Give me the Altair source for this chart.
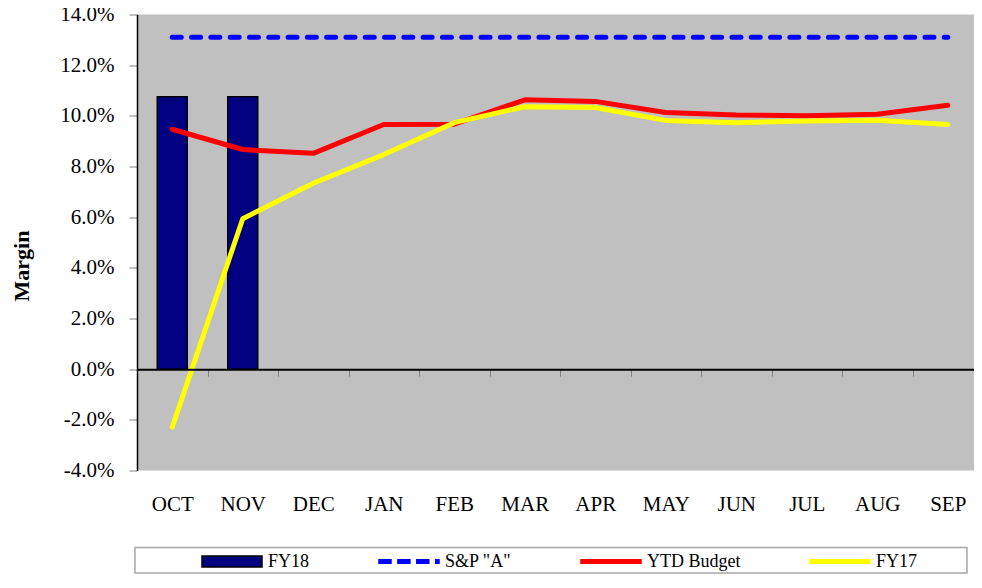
import altair as alt
import pandas as pd

# ---- data ----
months = ["OCT", "NOV", "DEC", "JAN", "FEB", "MAR", "APR", "MAY", "JUN", "JUL", "AUG", "SEP"]
fy18_months = ["OCT", "NOV"]
fy18 = [0.1075, 0.1075]
sp_a = [0.131, 0.131, 0.131, 0.131, 0.131, 0.131, 0.131, 0.131, 0.131, 0.131, 0.131, 0.131]
ytd_budget = [0.0947, 0.0867, 0.0852, 0.0966, 0.0967, 0.1063, 0.1057, 0.1013, 0.1003, 0.1000, 0.1006, 0.1042]
fy17 = [-0.0229, 0.0594, 0.0734, 0.0847, 0.0973, 0.1036, 0.1033, 0.0982, 0.0973, 0.0980, 0.0983, 0.0966]
y_ticks = [-0.04, -0.02, 0.0, 0.02, 0.04, 0.06, 0.08, 0.10, 0.12, 0.14]

series = ["FY18", 'S&P "A"', "YTD Budget", "FY17"]
fills = ["#000080", "#0000FF", "#FF0000", "#FFFF00"]
borders = ["#000000", "#0000FF", "#FF0000", "#FFFF00"]
# legend swatch outlines (unit symbol space, scaled by symbolSize)
swatches = [
    "M-1,-0.18H1V0.18H-1Z",
    "M-1,-0.06H-0.6V0.06H-1Z M-0.37,-0.06H0.03V0.06H-0.37Z M0.26,-0.06H0.66V0.06H0.26Z M0.89,-0.06H1V0.06H0.89Z",
    "M-1,-0.06H1V0.06H-1Z",
    "M-1,-0.06H1V0.06H-1Z",
]

FONT = "Liberation Serif"
TOP = 6.5
W, H = 846, 456

bars_df = pd.DataFrame({"month": fy18_months, "value": fy18})
sp_df = pd.DataFrame({"month": months, "value": sp_a})
ytd_df = pd.DataFrame({"month": months, "value": ytd_budget})
fy17_df = pd.DataFrame({"month": months, "value": fy17})
legend_df = pd.DataFrame({"series": series})
one_df = pd.DataFrame({"k": [0]})

x_enc = alt.X(
    "month:N",
    sort=months,
    scale=alt.Scale(domain=months, paddingInner=0, paddingOuter=0),
    axis=alt.Axis(
        orient="bottom",
        offset=-(H * 4 / 18),
        title=None,
        domainColor="black",
        domainWidth=2,
        tickColor="#808080",
        tickSize=7,
        tickWidth=1,
        tickBand="extent",
        labelPadding=117,
        labelAngle=0,
        labelFont=FONT,
        labelFontSize=21,
        labelColor="black",
        grid=False,
        zindex=1,
    ),
)

y_enc = alt.Y(
    "value:Q",
    scale=alt.Scale(domain=[-0.04, 0.14], nice=False, zero=False),
    axis=alt.Axis(
        values=y_ticks,
        labelExpr="(datum.value < -0.0001 ? '-' : '') + format(abs(datum.value), '.1%')",
        title="Margin",
        titleFont=FONT,
        titleFontSize=22,
        titleFontWeight="bold",
        titleColor="black",
        titleX=-116,
        titleY=251,
        titleAngle=270,
        titleAlign="center",
        titleBaseline="middle",
        domainColor="black",
        domainWidth=1.5,
        tickColor="#808080",
        tickSize=8,
        tickWidth=1,
        labelPadding=15,
        labelFont=FONT,
        labelFontSize=21,
        labelColor="black",
        grid=False,
        zindex=1,
    ),
)

plot_bg = alt.Chart(one_df).mark_rect(fill="#C0C0C0").encode(
    x=alt.value(0), x2=alt.value("width"), y=alt.value(0), y2=alt.value("height")
)

bars = alt.Chart(bars_df).mark_bar(
    width=30, color="#000080", stroke="black", strokeWidth=1.5
).encode(x=x_enc, y=y_enc, y2=alt.datum(0))

sp_line = alt.Chart(sp_df).mark_line(
    color="#0000FF", strokeWidth=5, strokeCap="round", strokeDash=[9, 10.3]
).encode(x=x_enc, y=y_enc)

ytd_line = alt.Chart(ytd_df).mark_line(
    color="#FF0000", strokeWidth=5, strokeCap="round", strokeJoin="round"
).encode(x=x_enc, y=y_enc)

fy17_line = alt.Chart(fy17_df).mark_line(
    color="#FFFF00", strokeWidth=5, strokeCap="round", strokeJoin="round"
).encode(x=x_enc, y=y_enc)

legend_box = alt.Chart(one_df).mark_rect(
    fill="white", stroke="#A6A6A6", strokeWidth=1.5
).encode(
    x=alt.value(-2), x2=alt.value(830), y=alt.value(533), y2=alt.value(558.5)
)

leg = alt.Legend(
    orient="none",
    legendX=64,
    legendY=516,
    direction="horizontal",
    columns=4,
    columnPadding=66,
    symbolSize=3600,
    symbolStrokeWidth=1.5,
    labelFont=FONT,
    labelFontSize=18,
    labelColor="black",
    labelOffset=5,
    padding=0,
    title=None,
)

legend_pts = alt.Chart(legend_df).transform_filter("false").mark_point(
    filled=True, opacity=1
).encode(
    color=alt.Color("series:N", scale=alt.Scale(domain=series, range=fills), legend=leg),
    stroke=alt.Stroke("series:N", scale=alt.Scale(domain=series, range=borders), legend=leg),
    shape=alt.Shape("series:N", scale=alt.Scale(domain=series, range=swatches), legend=leg),
)

chart = (
    alt.layer(plot_bg, legend_box, bars, sp_line, ytd_line, fy17_line, legend_pts)
    .properties(
        width=W,
        height=H,
        autosize=alt.AutoSizeParams(type="none"),
        padding={"left": 129, "top": TOP, "right": -9, "bottom": 104},
        title=alt.TitleParams(
            "(desired trend - increasing)",
            font=FONT,
            fontSize=22,
            fontWeight="bold",
            color="black",
            frame="group",
            anchor="middle",
            baseline="alphabetic",
            offset=5,
            dx=-12,
        ),
    )
    .configure_view(strokeWidth=0)
)

chart.save("out.html", embed_options={"renderer": "svg", "actions": False})
